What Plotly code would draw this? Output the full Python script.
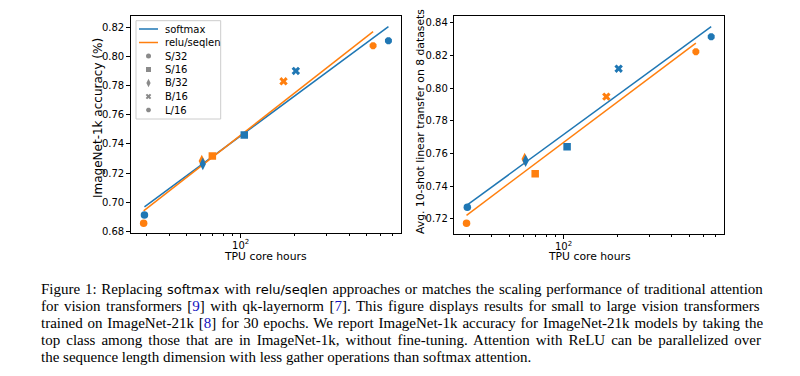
import numpy as np
import plotly.graph_objects as go

# ---------------- data ----------------
models = ["S/32", "S/16", "B/32", "B/16", "L/16"]
model_symbols = ["circle", "square", "diamond-tall", "x", "octagon"]

hours_softmax = [29.2, 104.7, 61.6, 202.5, 662]
hours_relu = [28.9, 69.6, 60.8, 173, 544]

imagenet_softmax = [0.6912, 0.7462, 0.7263, 0.7902, 0.8110]
imagenet_relu = [0.6855, 0.7318, 0.7283, 0.7831, 0.8076]

fewshot_softmax = [0.7272, 0.7642, 0.7556, 0.8119, 0.8314]
fewshot_relu = [0.7174, 0.7477, 0.7567, 0.7948, 0.8223]

left_yticks = [0.68, 0.70, 0.72, 0.74, 0.76, 0.78, 0.80, 0.82]
right_yticks = [0.72, 0.74, 0.76, 0.78, 0.80, 0.82, 0.84]
minor_x = [30, 40, 50, 60, 70, 80, 90, 200, 300, 400, 500, 600, 700]

SF = '<span style="font-family:\'DejaVu Sans\'; font-size:13px">{}</span>'
CITE = '[<span style="color:#1010c0">{}</span>]'
caption_lines = [
    "Figure 1: Replacing " + SF.format("softmax") + " with " + SF.format("relu/seqlen")
    + " approaches or matches the scaling performance of traditional attention",
    "for vision transformers " + CITE.format(9) + " with qk-layernorm " + CITE.format(7)
    + ". This figure displays results for small to large vision transformers",
    "trained on ImageNet-21k " + CITE.format(8)
    + " for 30 epochs. We report ImageNet-1k accuracy for ImageNet-21k models by taking the",
    "top class among those that are in ImageNet-1k, without fine-tuning. Attention with ReLU can be parallelized over",
    "the sequence length dimension with less gather operations than softmax attention.",
]

BLUE = "#1f77b4"
ORANGE = "#ff7f0e"
W, H = 800, 376


def px_x(p):
    return p / W


def px_y(p):
    return 1 - p / H


fig = go.Figure()


def fit_line(hours, vals):
    lx = np.log10(hours)
    slope, inter = np.polyfit(lx, vals, 1)
    xs = np.array([min(hours), max(hours)])
    return xs, slope * np.log10(xs) + inter


panels = [
    ("x", "y", imagenet_softmax, imagenet_relu),
    ("x2", "y2", fewshot_softmax, fewshot_relu),
]

for i, (xa, ya, s_vals, r_vals) in enumerate(panels):
    xs, ys = fit_line(hours_softmax, s_vals)
    fig.add_trace(go.Scatter(x=xs, y=ys, mode="lines", line=dict(color=BLUE, width=1.5),
                             showlegend=False, xaxis=xa, yaxis=ya))
    xs, ys = fit_line(hours_relu, r_vals)
    fig.add_trace(go.Scatter(x=xs, y=ys, mode="lines", line=dict(color=ORANGE, width=1.5),
                             showlegend=False, xaxis=xa, yaxis=ya))
    for m, sym, hs, vs, hr, vr in zip(models, model_symbols, hours_softmax, s_vals, hours_relu, r_vals):
        size = 9 if sym == "diamond-tall" else 7.5
        fig.add_trace(go.Scatter(x=[hr], y=[vr], mode="markers", name=m,
                                 marker=dict(color=ORANGE, symbol=sym, size=size, line=dict(width=0)),
                                 showlegend=False, xaxis=xa, yaxis=ya))
        fig.add_trace(go.Scatter(x=[hs], y=[vs], mode="markers", name=m,
                                 marker=dict(color=BLUE, symbol=sym, size=size, line=dict(width=0)),
                                 showlegend=False, xaxis=xa, yaxis=ya))

# ---------------- hand-drawn legend (pixel overlay axis) ----------------
leg_labels = ["softmax", "relu/seqlen"] + models
row0, step = 29.0, 13.5
rows = [row0 + k * step for k in range(len(leg_labels))]
for k, col in enumerate([BLUE, ORANGE]):
    fig.add_trace(go.Scatter(x=[139, 158], y=[rows[k], rows[k]], mode="lines",
                             line=dict(color=col, width=1.5), showlegend=False,
                             hoverinfo="skip", xaxis="x3", yaxis="y3"))
for k, sym in enumerate(model_symbols):
    fig.add_trace(go.Scatter(x=[148.5], y=[rows[k + 2]], mode="markers",
                             marker=dict(color="#8a8a8a", symbol=sym,
                                         size=6 if sym == "diamond-tall" else 5, line=dict(width=0)),
                             showlegend=False, hoverinfo="skip", xaxis="x3", yaxis="y3"))
for k, lab in enumerate(leg_labels):
    fig.add_annotation(text=lab, x=px_x(164), y=px_y(rows[k]), xref="paper", yref="paper",
                       xanchor="left", yanchor="middle", showarrow=False, borderpad=0,
                       font=dict(family="DejaVu Sans", size=10, color="black"))
fig.add_shape(type="rect", xref="paper", yref="paper", x0=px_x(136), x1=px_x(220.7),
              y0=px_y(119), y1=px_y(20.7), line=dict(color="#cccccc", width=1),
              fillcolor="white", layer="below")

tick_font = dict(family="DejaVu Sans", size=10, color="black")
common_x = dict(type="log", showgrid=False, zeroline=False, showline=True, linecolor="black",
                linewidth=1, mirror=True, ticks="outside", ticklen=3.5, tickcolor="black",
                tickvals=[100], ticktext=["10<sup>2</sup>"], tickfont=tick_font, automargin=False,
                ticklabelstandoff=-1,
                minor=dict(tickvals=minor_x, ticks="outside", ticklen=2, tickcolor="black"))
common_y = dict(showgrid=False, zeroline=False, showline=True, linecolor="black", linewidth=1,
                mirror=True, ticks="outside", ticklen=3.5, tickcolor="black", tickfont=tick_font,
                automargin=False)

fig.update_layout(
    width=W, height=H,
    margin=dict(l=0, r=0, t=0, b=0),
    paper_bgcolor="white", plot_bgcolor="rgba(0,0,0,0)",
    xaxis=dict(common_x, domain=[px_x(130.7), px_x(400.7)], range=[1.389, 2.889], anchor="y"),
    yaxis=dict(common_y, domain=[px_y(233), px_y(16)], range=[0.6788, 0.828],
               tickvals=left_yticks, ticktext=[f"{v:.2f}" for v in left_yticks], anchor="x"),
    xaxis2=dict(common_x, domain=[px_x(454.3), px_x(724)], range=[1.393, 2.892], anchor="y2"),
    yaxis2=dict(common_y, domain=[px_y(234.3), px_y(15.7)], range=[0.7106, 0.8443],
                tickvals=right_yticks, ticktext=[f"{v:.2f}" for v in right_yticks], anchor="x2"),
    xaxis3=dict(domain=[0, 1], range=[0, W], visible=False, fixedrange=True, anchor="y3"),
    yaxis3=dict(domain=[0, 1], range=[H, 0], visible=False, fixedrange=True, anchor="x3"),
    showlegend=False,
)

# axis titles
title_font = dict(family="DejaVu Sans", color="black")
for cx in (265.7, 589):
    fig.add_annotation(text="TPU core hours", x=px_x(cx), y=px_y(256.5), xref="paper", yref="paper",
                       xanchor="center", yanchor="middle", showarrow=False, borderpad=0,
                       font=dict(title_font, size=10.8))
fig.add_annotation(text="ImageNet-1k accuracy (%)", x=px_x(98), y=px_y(118), xref="paper", yref="paper",
                   xanchor="center", yanchor="middle", showarrow=False, textangle=-90, borderpad=0,
                   font=dict(title_font, size=12))
fig.add_annotation(text="Avg. 10-shot linear transfer on 8 datasets", x=px_x(420), y=px_y(122),
                   xref="paper", yref="paper", xanchor="center", yanchor="middle", showarrow=False,
                   textangle=-90, borderpad=0, font=dict(title_font, size=10.8))

# caption: justified look via per-line word spacing
cap_font = dict(family="Liberation Serif", size=15, color="black")
line_y = [289, 306, 323, 340, 357]
word_gap = [1.0, 1.7, 1.1, 2.3, 0.0]
for txt, yy, wg in zip(caption_lines, line_y, word_gap):
    fig.add_annotation(text=f'<span style="word-spacing:{wg}px">{txt}</span>',
                       x=px_x(40), y=px_y(yy), xref="paper", yref="paper",
                       xanchor="left", yanchor="middle", showarrow=False, borderpad=0, font=cap_font)

fig.write_html("out.html", config={"displayModeBar": False},
               post_script="document.body.style.margin='0px';")
